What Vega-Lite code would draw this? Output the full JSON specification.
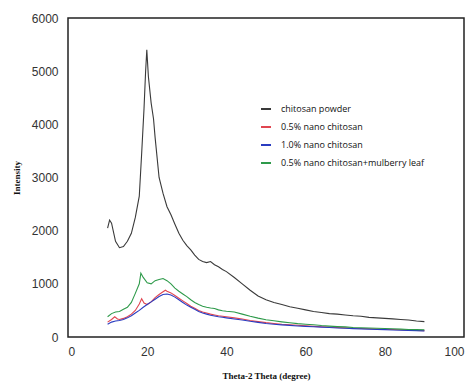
{
  "$schema": "https://vega.github.io/schema/vega-lite/v6.json",
  "width": 396,
  "height": 319,
  "autosize": "none",
  "padding": {"left": 68, "top": 18, "right": 9, "bottom": 46},
  "background": "white",
  "config": {
    "view": {"stroke": "#222", "strokeWidth": 1.5},
    "axis": {"grid": false, "ticks": false, "domain": false, "labelFont": "Liberation Sans", "labelFontSize": 12, "labelColor": "#333", "titleFont": "Liberation Serif", "titleFontSize": 9, "titleFontWeight": "bold", "titleColor": "#111"}
  },
  "data": {"values": [
    {"s":"A","x":10,"y":2050},{"s":"A","x":10.5,"y":2200},{"s":"A","x":11,"y":2140},{"s":"A","x":12,"y":1800},{"s":"A","x":13,"y":1680},{"s":"A","x":14,"y":1700},{"s":"A","x":15,"y":1800},{"s":"A","x":16,"y":1950},{"s":"A","x":17,"y":2250},{"s":"A","x":18,"y":2650},{"s":"A","x":18.6,"y":3450},{"s":"A","x":19.2,"y":4300},{"s":"A","x":19.6,"y":5000},{"s":"A","x":19.9,"y":5400},{"s":"A","x":20.3,"y":4900},{"s":"A","x":21,"y":4400},{"s":"A","x":21.6,"y":4100},{"s":"A","x":22,"y":3750},{"s":"A","x":23,"y":3000},{"s":"A","x":24,"y":2700},{"s":"A","x":25,"y":2450},{"s":"A","x":26,"y":2300},{"s":"A","x":27,"y":2120},{"s":"A","x":28,"y":1950},{"s":"A","x":29,"y":1820},{"s":"A","x":30,"y":1720},{"s":"A","x":31,"y":1640},{"s":"A","x":32,"y":1540},{"s":"A","x":33,"y":1460},{"s":"A","x":34,"y":1420},{"s":"A","x":35,"y":1400},{"s":"A","x":36,"y":1420},{"s":"A","x":37,"y":1360},{"s":"A","x":38,"y":1320},{"s":"A","x":39,"y":1270},{"s":"A","x":40,"y":1230},{"s":"A","x":42,"y":1120},{"s":"A","x":44,"y":1000},{"s":"A","x":46,"y":880},{"s":"A","x":48,"y":770},{"s":"A","x":50,"y":700},{"s":"A","x":52,"y":650},{"s":"A","x":54,"y":610},{"s":"A","x":56,"y":570},{"s":"A","x":58,"y":540},{"s":"A","x":60,"y":510},{"s":"A","x":62,"y":480},{"s":"A","x":64,"y":460},{"s":"A","x":66,"y":440},{"s":"A","x":68,"y":430},{"s":"A","x":70,"y":415},{"s":"A","x":72,"y":400},{"s":"A","x":74,"y":390},{"s":"A","x":76,"y":370},{"s":"A","x":78,"y":360},{"s":"A","x":80,"y":350},{"s":"A","x":82,"y":340},{"s":"A","x":84,"y":330},{"s":"A","x":86,"y":320},{"s":"A","x":88,"y":300},{"s":"A","x":90,"y":290},
    {"s":"B","x":10,"y":280},{"s":"B","x":11,"y":330},{"s":"B","x":11.8,"y":380},{"s":"B","x":12.5,"y":340},{"s":"B","x":13,"y":330},{"s":"B","x":14,"y":350},{"s":"B","x":15,"y":380},{"s":"B","x":16,"y":430},{"s":"B","x":17,"y":500},{"s":"B","x":18,"y":620},{"s":"B","x":18.6,"y":720},{"s":"B","x":19.2,"y":640},{"s":"B","x":20,"y":610},{"s":"B","x":21,"y":660},{"s":"B","x":22,"y":740},{"s":"B","x":23,"y":800},{"s":"B","x":24,"y":850},{"s":"B","x":24.6,"y":880},{"s":"B","x":25,"y":860},{"s":"B","x":26,"y":830},{"s":"B","x":27,"y":780},{"s":"B","x":28,"y":730},{"s":"B","x":29,"y":680},{"s":"B","x":30,"y":630},{"s":"B","x":31,"y":580},{"s":"B","x":32,"y":540},{"s":"B","x":33,"y":500},{"s":"B","x":34,"y":470},{"s":"B","x":35,"y":450},{"s":"B","x":36,"y":430},{"s":"B","x":37,"y":415},{"s":"B","x":38,"y":400},{"s":"B","x":39,"y":390},{"s":"B","x":40,"y":380},{"s":"B","x":42,"y":360},{"s":"B","x":44,"y":340},{"s":"B","x":46,"y":310},{"s":"B","x":48,"y":290},{"s":"B","x":50,"y":270},{"s":"B","x":52,"y":255},{"s":"B","x":54,"y":240},{"s":"B","x":56,"y":230},{"s":"B","x":58,"y":220},{"s":"B","x":60,"y":210},{"s":"B","x":62,"y":200},{"s":"B","x":64,"y":192},{"s":"B","x":66,"y":185},{"s":"B","x":68,"y":178},{"s":"B","x":70,"y":172},{"s":"B","x":72,"y":165},{"s":"B","x":74,"y":160},{"s":"B","x":76,"y":155},{"s":"B","x":78,"y":150},{"s":"B","x":80,"y":145},{"s":"B","x":82,"y":140},{"s":"B","x":84,"y":135},{"s":"B","x":86,"y":130},{"s":"B","x":88,"y":125},{"s":"B","x":90,"y":120},
    {"s":"C","x":10,"y":240},{"s":"C","x":11,"y":280},{"s":"C","x":12,"y":300},{"s":"C","x":13,"y":310},{"s":"C","x":14,"y":330},{"s":"C","x":15,"y":360},{"s":"C","x":16,"y":400},{"s":"C","x":17,"y":450},{"s":"C","x":18,"y":500},{"s":"C","x":19,"y":560},{"s":"C","x":20,"y":610},{"s":"C","x":21,"y":660},{"s":"C","x":22,"y":710},{"s":"C","x":23,"y":760},{"s":"C","x":24,"y":800},{"s":"C","x":25,"y":810},{"s":"C","x":26,"y":790},{"s":"C","x":27,"y":750},{"s":"C","x":28,"y":700},{"s":"C","x":29,"y":650},{"s":"C","x":30,"y":600},{"s":"C","x":31,"y":560},{"s":"C","x":32,"y":520},{"s":"C","x":33,"y":480},{"s":"C","x":34,"y":450},{"s":"C","x":35,"y":430},{"s":"C","x":36,"y":410},{"s":"C","x":37,"y":395},{"s":"C","x":38,"y":380},{"s":"C","x":39,"y":370},{"s":"C","x":40,"y":360},{"s":"C","x":42,"y":340},{"s":"C","x":44,"y":320},{"s":"C","x":46,"y":295},{"s":"C","x":48,"y":275},{"s":"C","x":50,"y":255},{"s":"C","x":52,"y":240},{"s":"C","x":54,"y":228},{"s":"C","x":56,"y":218},{"s":"C","x":58,"y":208},{"s":"C","x":60,"y":200},{"s":"C","x":62,"y":192},{"s":"C","x":64,"y":185},{"s":"C","x":66,"y":178},{"s":"C","x":68,"y":170},{"s":"C","x":70,"y":165},{"s":"C","x":72,"y":158},{"s":"C","x":74,"y":152},{"s":"C","x":76,"y":148},{"s":"C","x":78,"y":142},{"s":"C","x":80,"y":138},{"s":"C","x":82,"y":133},{"s":"C","x":84,"y":128},{"s":"C","x":86,"y":124},{"s":"C","x":88,"y":120},{"s":"C","x":90,"y":115},
    {"s":"D","x":10,"y":380},{"s":"D","x":11,"y":440},{"s":"D","x":12,"y":470},{"s":"D","x":13,"y":480},{"s":"D","x":14,"y":520},{"s":"D","x":15,"y":560},{"s":"D","x":16,"y":650},{"s":"D","x":17,"y":820},{"s":"D","x":18,"y":1000},{"s":"D","x":18.4,"y":1200},{"s":"D","x":19,"y":1120},{"s":"D","x":20,"y":1020},{"s":"D","x":21,"y":1000},{"s":"D","x":22,"y":1060},{"s":"D","x":23,"y":1080},{"s":"D","x":24,"y":1100},{"s":"D","x":25,"y":1060},{"s":"D","x":26,"y":1000},{"s":"D","x":27,"y":920},{"s":"D","x":28,"y":860},{"s":"D","x":29,"y":810},{"s":"D","x":30,"y":760},{"s":"D","x":31,"y":700},{"s":"D","x":32,"y":650},{"s":"D","x":33,"y":610},{"s":"D","x":34,"y":580},{"s":"D","x":35,"y":560},{"s":"D","x":36,"y":545},{"s":"D","x":37,"y":535},{"s":"D","x":38,"y":510},{"s":"D","x":39,"y":495},{"s":"D","x":40,"y":485},{"s":"D","x":42,"y":470},{"s":"D","x":44,"y":430},{"s":"D","x":46,"y":390},{"s":"D","x":48,"y":355},{"s":"D","x":50,"y":325},{"s":"D","x":52,"y":305},{"s":"D","x":54,"y":285},{"s":"D","x":56,"y":268},{"s":"D","x":58,"y":252},{"s":"D","x":60,"y":240},{"s":"D","x":62,"y":230},{"s":"D","x":64,"y":215},{"s":"D","x":66,"y":205},{"s":"D","x":68,"y":196},{"s":"D","x":70,"y":190},{"s":"D","x":72,"y":180},{"s":"D","x":74,"y":175},{"s":"D","x":76,"y":170},{"s":"D","x":78,"y":165},{"s":"D","x":80,"y":160},{"s":"D","x":82,"y":155},{"s":"D","x":84,"y":148},{"s":"D","x":86,"y":142},{"s":"D","x":88,"y":138},{"s":"D","x":90,"y":135}
  ]},
  "mark": {"type": "line", "strokeWidth": 1.1},
  "encoding": {
    "x": {"field": "x", "type": "quantitative", "scale": {"domain": [0, 100], "nice": false}, "axis": {"values": [0, 20, 40, 60, 80, 100], "labelPadding": 9, "title": "Theta-2 Theta (degree)", "titlePadding": 14}},
    "y": {"field": "y", "type": "quantitative", "scale": {"domain": [0, 6000], "nice": false}, "axis": {"values": [0, 1000, 2000, 3000, 4000, 5000, 6000], "format": "d", "labelPadding": 10, "title": "Intensity", "titlePadding": 10}},
    "color": {
      "field": "s", "type": "nominal",
      "scale": {"domain": ["A", "B", "C", "D"], "range": ["#3a3a3a", "#e04550", "#2a3cc0", "#2e9a4a"]},
      "legend": {
        "title": null, "orient": "none", "legendX": 192, "legendY": 85,
        "symbolType": "stroke", "symbolSize": 100, "symbolStrokeWidth": 2,
        "labelFont": "Open Sans", "labelFontSize": 9, "labelColor": "#111", "labelOffset": 9, "rowPadding": 7,
        "labelExpr": "datum.value == 'A' ? ' chitosan powder' : datum.value == 'B' ? '0.5% nano chitosan' : datum.value == 'C' ? '1.0% nano chitosan' : '0.5% nano chitosan+mulberry leaf'"
      }
    }
  }
}
